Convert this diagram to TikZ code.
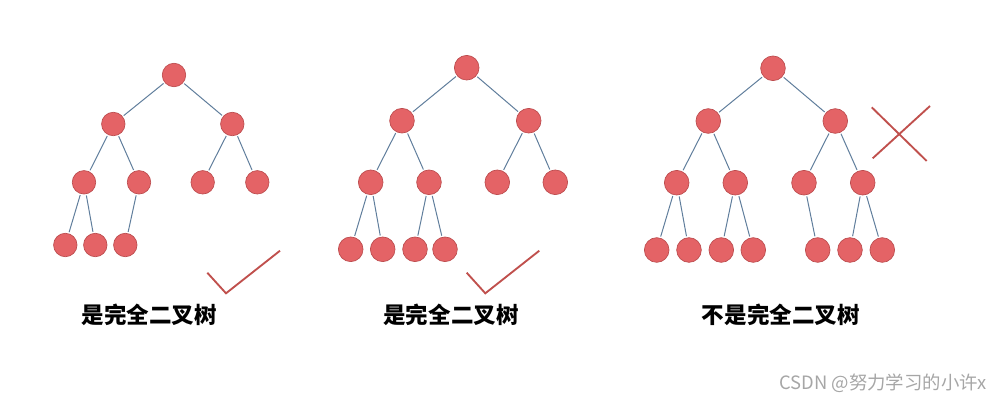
\documentclass[tikz,border=0pt]{standalone}
\usepackage{fontspec}
\newfontfamily\cjk{Noto Sans CJK SC}
\usepackage{tikz}

\definecolor{nodered}{RGB}{228,99,102}
\definecolor{noderim}{RGB}{188,76,78}
\definecolor{edgeblue}{RGB}{96,126,156}
\definecolor{tickred}{RGB}{192,80,77}

\tikzset{
    tn/.style={circle, fill=nodered, draw=noderim, line width=0.5pt,
               minimum size=18.5pt, inner sep=0pt},
    tnsmall/.style={tn, minimum size=17.6pt},
    br/.style={draw=edgeblue, line width=0.75pt, shorten <=1pt, shorten >=1pt},
    tick/.style={draw=tickred, line width=1.4pt},
    caption/.style={font=\cjk\bfseries\fontsize{16.9pt}{20pt}\selectfont},
}

\begin{document}
\begin{tikzpicture}[x=0.75pt, y=-0.75pt]

    \useasboundingbox (0,0) rectangle (1008,401);

    % first tree
    \node [tnsmall] (A1)  at (174, 75)    {};
    \node [tnsmall] (A2)  at (113.3, 124) {};
    \node [tnsmall] (A3)  at (232.3, 124) {};
    \node [tnsmall] (A4)  at (84, 182.3)  {};
    \node [tnsmall] (A5)  at (139, 182.3) {};
    \node [tnsmall] (A6)  at (202.7, 182.3) {};
    \node [tnsmall] (A7)  at (257.3, 182.3) {};
    \node [tnsmall] (A8)  at (65.3, 245)  {};
    \node [tnsmall] (A9)  at (95.3, 245)  {};
    \node [tnsmall] (A10) at (125.3, 245) {};

    \draw [br] (A1) -- (A2);
    \draw [br] (A1) -- (A3);
    \draw [br] (A2) -- (A4);
    \draw [br] (A2) -- (A5);
    \draw [br] (A3) -- (A6);
    \draw [br] (A3) -- (A7);
    \draw [br] (A4) -- (A8);
    \draw [br] (A4) -- (A9);
    \draw [br] (A5) -- (A10);

    % second tree
    \node [tn] (B1)  at (466.7, 67.7)  {};
    \node [tn] (B2)  at (402, 120.7)   {};
    \node [tn] (B3)  at (528.7, 120.7) {};
    \node [tn] (B4)  at (370.7, 182.3) {};
    \node [tn] (B5)  at (429, 182.3)   {};
    \node [tn] (B6)  at (497.3, 182.3) {};
    \node [tn] (B7)  at (555.3, 182.3) {};
    \node [tn] (B8)  at (350.7, 249.3) {};
    \node [tn] (B9)  at (382.7, 249.3) {};
    \node [tn] (B10) at (415, 249.3)   {};
    \node [tn] (B11) at (445, 249.3)   {};

    \draw [br] (B1) -- (B2);
    \draw [br] (B1) -- (B3);
    \draw [br] (B2) -- (B4);
    \draw [br] (B2) -- (B5);
    \draw [br] (B3) -- (B6);
    \draw [br] (B3) -- (B7);
    \draw [br] (B4) -- (B8);
    \draw [br] (B4) -- (B9);
    \draw [br] (B5) -- (B10);
    \draw [br] (B5) -- (B11);

    % third tree
    \node [tn] (C1)  at (773, 68.3)    {};
    \node [tn] (C2)  at (708.3, 121)   {};
    \node [tn] (C3)  at (835.3, 121)   {};
    \node [tn] (C4)  at (676.7, 182.7) {};
    \node [tn] (C5)  at (735.3, 182.7) {};
    \node [tn] (C6)  at (804, 182.7)   {};
    \node [tn] (C7)  at (862.7, 182.7) {};
    \node [tn] (C8)  at (656.7, 250)   {};
    \node [tn] (C9)  at (689, 250)     {};
    \node [tn] (C10) at (721.3, 250)   {};
    \node [tn] (C11) at (753.3, 250)   {};
    \node [tn] (C12) at (817.7, 250)   {};
    \node [tn] (C13) at (850, 250)     {};
    \node [tn] (C14) at (882.3, 250)   {};

    \draw [br] (C1) -- (C2);
    \draw [br] (C1) -- (C3);
    \draw [br] (C2) -- (C4);
    \draw [br] (C2) -- (C5);
    \draw [br] (C3) -- (C6);
    \draw [br] (C3) -- (C7);
    \draw [br] (C4) -- (C8);
    \draw [br] (C4) -- (C9);
    \draw [br] (C5) -- (C10);
    \draw [br] (C5) -- (C11);
    \draw [br] (C6) -- (C12);
    \draw [br] (C7) -- (C13);
    \draw [br] (C7) -- (C14);

    % ticks and cross
    \draw [tick] (207.3, 272.7) -- (226, 293.3) -- (280, 250.7);
    \draw [tick] (466.7, 272.7) -- (485.3, 293.3) -- (539.3, 250.7);
    \draw [tick] (871.7, 107.3) -- (926.7, 161);
    \draw [tick] (930, 106) -- (872.7, 158.3);

    % captions
    \node [caption] (T1) at (149.2, 315) {是完全二叉树};
    \node [caption] (T2) at (451, 315)   {是完全二叉树};
    \node [caption] (T3) at (780.8, 315) {不是完全二叉树};

    \node [font=\cjk\fontsize{13.8pt}{15pt}\selectfont, text=black!35] (W) at (883.3, 383) {CSDN @努力学习的小许x};

\end{tikzpicture}
\end{document}
